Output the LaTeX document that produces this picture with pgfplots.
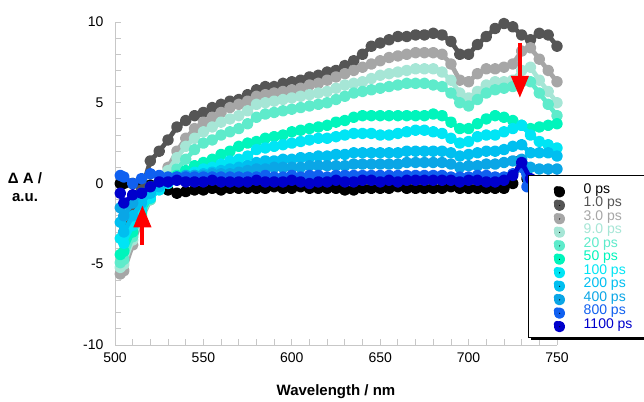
\documentclass[border=0pt]{standalone}
\usepackage{fontspec}
\setmainfont{Liberation Sans}
\usepackage{pgfplots}
\pgfplotsset{compat=1.18}
\usetikzlibrary{arrows.meta,shadows}
\definecolor{c0}{HTML}{000000}
\definecolor{c1}{HTML}{555555}
\definecolor{c2}{HTML}{A6A6A6}
\definecolor{c3}{HTML}{A6E6D6}
\definecolor{c4}{HTML}{5EEBCB}
\definecolor{c5}{HTML}{00F5BC}
\definecolor{c6}{HTML}{00E5F5}
\definecolor{c7}{HTML}{00BFF0}
\definecolor{c8}{HTML}{0AA6E6}
\definecolor{c9}{HTML}{1060F0}
\definecolor{c10}{HTML}{0000CC}
\pgfplotsset{dotimg/.style={color=#1, only marks, mark=*, mark size=3.3pt, legend image code/.code={\fill[#1,draw=none] (0pt,0pt) circle (3.3pt);}}}
\begin{document}
\begin{tikzpicture}
\useasboundingbox (-115pt,-56pt) rectangle (529pt,345pt);
\clip (-115pt,-56pt) rectangle (529pt,345pt);
\begin{axis}[
  at={(0pt,0pt)}, anchor=south west,
  clip mode=individual,
  scale only axis, width=442pt, height=323pt,
  xmin=500, xmax=750, ymin=-10, ymax=10,
  axis x line*=bottom, axis y line*=left,
  axis line style={black!22, line width=0.8pt},
  xtick={500,550,600,650,700,750}, ytick={-10,-5,0,5,10},
  minor x tick num=4, minor y tick num=4,
  tick align=inside, major tick length=6pt, minor tick length=6pt,
  tick style={black!22, line width=0.8pt},
  ticklabel style={font=\fontsize{14}{16}\selectfont},
  /pgf/number format/assume math mode=true,
  yticklabel style={xshift=-8pt}, xticklabel style={yshift=-4pt},
  every axis plot/.append style={line width=4.6pt, mark=*, mark size=3.5pt, line join=round, line cap=round, mark options={solid, draw=none}},
  legend style={at={(rel axis cs:0.934,0.525)}, anchor=north west, draw=black, line width=0.8pt, fill=white,
    font=\fontsize{14}{14}\selectfont, inner xsep=25.5pt, inner ysep=7.5pt, row sep=1.4pt, column sep=23pt,
    cells={anchor=west}, nodes={inner sep=0.4pt},
    drop shadow={shadow xshift=2.5pt, shadow yshift=-2.5pt, fill=black, opacity=1}},
]
\addplot[color=c0, forget plot] coordinates {(503,0.0)(505,0.0)(510,0.0)(515,0.0)(520,-0.1)(525,-0.2)(530,-0.4)(535,-0.6)(540,-0.5)(545,-0.4)(550,-0.4)(555,-0.3)(560,-0.4)(565,-0.3)(570,-0.3)(575,-0.3)(580,-0.3)(585,-0.3)(590,-0.2)(595,-0.3)(600,-0.3)(605,-0.2)(610,-0.3)(615,-0.3)(620,-0.3)(625,-0.3)(630,-0.4)(635,-0.4)(640,-0.3)(645,-0.3)(650,-0.3)(655,-0.3)(660,-0.2)(665,-0.3)(670,-0.3)(675,-0.3)(680,-0.3)(685,-0.3)(690,-0.2)(695,-0.3)(700,-0.3)(705,-0.3)(710,-0.3)(715,-0.3)(720,-0.3)(725,0.0)(729,1.4)(733,0.3)(740,-0.2)(745,-0.2)(750,-0.2)};
\addplot[color=c1, forget plot] coordinates {(505,-3.0)(510,-1.8)(515,-0.4)(520,1.4)(525,2.0)(530,2.7)(535,3.5)(540,3.9)(545,4.2)(550,4.4)(555,4.7)(560,4.9)(565,5.1)(570,5.2)(575,5.5)(580,5.8)(585,6.0)(590,6.0)(595,6.2)(600,6.3)(605,6.4)(610,6.6)(615,6.7)(620,6.9)(625,7.0)(630,7.3)(635,7.6)(640,8.0)(645,8.5)(650,8.7)(655,8.9)(660,9.1)(665,9.1)(670,9.2)(675,9.2)(680,9.3)(685,9.2)(690,8.8)(695,8.0)(700,8.0)(705,8.6)(710,9.1)(715,9.6)(720,9.9)(725,9.7)(730,9.2)(735,8.9)(740,9.3)(745,9.2)(750,8.5)};
\addplot[color=c2, forget plot] coordinates {(503,-5.6)(505,-5.4)(510,-3.8)(515,-2.2)(520,-1.0)(525,0.0)(530,1.0)(535,2.0)(540,2.8)(545,3.4)(550,3.8)(555,4.1)(560,4.4)(565,4.7)(570,4.9)(575,5.1)(580,5.4)(585,5.5)(590,5.6)(595,5.7)(600,5.8)(605,5.9)(610,6.1)(615,6.2)(620,6.4)(625,6.6)(630,6.8)(635,7.0)(640,7.2)(645,7.4)(650,7.6)(655,7.8)(660,7.9)(665,8.0)(670,8.1)(675,8.1)(680,8.1)(685,8.0)(690,7.4)(695,6.4)(700,6.3)(705,6.8)(710,7.1)(715,7.1)(720,7.2)(725,7.4)(730,8.2)(735,8.4)(740,7.7)(745,7.0)(750,6.3)};
\addplot[color=c3, forget plot] coordinates {(503,-5.2)(505,-5.0)(510,-3.5)(515,-2.0)(520,-0.9)(525,0.0)(530,0.8)(535,1.6)(540,2.3)(545,2.8)(550,3.2)(555,3.5)(560,3.8)(565,4.0)(570,4.2)(575,4.5)(580,4.9)(585,5.0)(590,5.1)(595,5.2)(600,5.3)(605,5.4)(610,5.5)(615,5.6)(620,5.7)(625,5.9)(630,6.1)(635,6.2)(640,6.3)(645,6.5)(650,6.7)(655,6.8)(660,6.9)(665,7.0)(670,7.1)(675,7.1)(680,7.1)(685,6.9)(690,6.4)(695,5.6)(700,5.3)(705,5.7)(710,6.1)(715,6.3)(720,6.3)(725,6.4)(730,7.0)(735,7.2)(740,6.4)(745,5.7)(750,5.0)};
\addplot[color=c4, forget plot] coordinates {(503,-4.9)(505,-4.7)(510,-3.3)(515,-2.0)(520,-1.0)(525,-0.2)(530,0.4)(535,0.9)(540,1.5)(545,2.1)(550,2.5)(555,2.7)(560,3.0)(565,3.2)(570,3.4)(575,3.7)(580,4.1)(585,4.3)(590,4.4)(595,4.5)(600,4.6)(605,4.7)(610,4.8)(615,4.9)(620,5.0)(625,5.2)(630,5.4)(635,5.6)(640,5.7)(645,5.8)(650,5.9)(655,6.0)(660,6.1)(665,6.2)(670,6.2)(675,6.2)(680,6.1)(685,6.0)(690,5.6)(695,5.0)(700,4.8)(705,5.2)(710,5.6)(715,5.8)(720,5.9)(725,6.0)(730,6.3)(735,6.3)(740,5.6)(745,4.9)(750,4.2)};
\addplot[color=c5, forget plot] coordinates {(503,-4.4)(505,-4.2)(510,-3.0)(515,-1.8)(520,-0.9)(525,-0.3)(530,0.1)(535,0.5)(540,0.8)(545,1.1)(550,1.3)(555,1.5)(560,1.8)(565,2.0)(570,2.3)(575,2.5)(580,2.6)(585,2.8)(590,2.9)(595,3.0)(600,3.2)(605,3.3)(610,3.4)(615,3.5)(620,3.6)(625,3.8)(630,3.9)(635,4.1)(640,4.2)(645,4.2)(650,4.2)(655,4.2)(660,4.2)(665,4.2)(670,4.2)(675,4.2)(680,4.3)(685,4.2)(690,3.8)(695,3.4)(700,3.4)(705,3.7)(710,4.0)(715,4.2)(720,4.1)(725,3.9)(730,3.6)(735,3.4)(740,3.5)(745,3.6)(750,3.7)};
\addplot[color=c6, forget plot] coordinates {(503,-3.4)(505,-3.7)(510,-2.6)(515,-1.6)(520,-0.9)(525,-0.4)(530,0.0)(535,0.3)(540,0.5)(545,0.7)(550,0.9)(555,1.0)(560,1.2)(565,1.4)(570,1.5)(575,1.7)(580,2.1)(585,2.2)(590,2.3)(595,2.4)(600,2.5)(605,2.6)(610,2.7)(615,2.8)(620,2.8)(625,2.9)(630,3.0)(635,3.1)(640,3.1)(645,3.1)(650,3.0)(655,3.0)(660,3.1)(665,3.2)(670,3.3)(675,3.3)(680,3.2)(685,3.1)(690,2.8)(695,2.5)(700,2.6)(705,2.9)(710,3.0)(715,3.0)(720,3.2)(725,3.4)(730,3.6)(735,3.0)(740,2.6)(745,2.4)(750,2.2)};
\addplot[color=c7, forget plot] coordinates {(503,-2.4)(505,-3.0)(510,-2.0)(515,-1.2)(520,-0.6)(525,-0.2)(530,0.2)(535,0.3)(540,0.4)(545,0.5)(550,0.6)(555,0.7)(560,0.8)(565,0.9)(570,1.0)(575,1.1)(580,1.3)(585,1.4)(590,1.4)(595,1.5)(600,1.5)(605,1.6)(610,1.6)(615,1.7)(620,1.7)(625,1.8)(630,1.8)(635,1.9)(640,1.9)(645,1.9)(650,1.9)(655,1.9)(660,1.9)(665,2.0)(670,2.0)(675,2.0)(680,2.0)(685,2.0)(690,1.9)(695,1.7)(700,1.8)(705,1.9)(710,2.0)(715,2.0)(720,2.1)(725,2.3)(730,2.4)(735,1.9)(740,1.9)(745,1.9)(750,1.7)};
\addplot[color=c8, forget plot] coordinates {(503,-1.5)(505,-2.0)(510,-1.2)(515,-0.6)(520,-0.2)(525,0.1)(530,0.3)(535,0.4)(540,0.5)(545,0.5)(550,0.5)(555,0.6)(560,0.6)(565,0.6)(570,0.7)(575,0.8)(580,0.9)(585,0.9)(590,1.0)(595,1.0)(600,1.0)(605,1.0)(610,1.1)(615,1.1)(620,1.1)(625,1.1)(630,1.1)(635,1.2)(640,1.2)(645,1.2)(650,1.2)(655,1.2)(660,1.2)(665,1.3)(670,1.3)(675,1.3)(680,1.3)(685,1.3)(690,1.2)(695,1.0)(700,1.1)(705,1.1)(710,1.2)(715,1.2)(720,1.3)(725,1.4)(730,1.5)(735,1.0)(740,0.9)(745,0.9)(750,0.9)};
\addplot[color=c9, forget plot] coordinates {(503,0.5)(505,0.4)(510,0.0)(515,0.3)(520,0.6)(525,0.5)(530,0.4)(535,0.4)(540,0.4)(545,0.4)(550,0.4)(555,0.4)(560,0.4)(565,0.4)(570,0.4)(575,0.4)(580,0.4)(585,0.5)(590,0.4)(595,0.4)(600,0.5)(605,0.4)(610,0.5)(615,0.5)(620,0.4)(625,0.5)(630,0.5)(635,0.5)(640,0.5)(645,0.5)(650,0.5)(655,0.5)(660,0.5)(665,0.5)(670,0.5)(675,0.5)(680,0.5)(685,0.5)(690,0.4)(695,0.4)(700,0.4)(705,0.5)(710,0.5)(715,0.4)(720,0.4)(725,0.6)(730,1.0)(733,-0.2)(737,-0.7)(740,0.0)(745,0.2)(750,0.2)};
\addplot[color=c10, forget plot] coordinates {(503,-0.6)(505,-1.2)(510,-0.7)(515,-0.6)(520,-0.2)(525,0.1)(530,0.1)(535,0.2)(540,0.1)(545,0.1)(550,0.1)(555,0.2)(560,0.1)(565,0.1)(570,0.1)(575,0.1)(580,0.2)(585,0.1)(590,0.1)(595,0.1)(600,0.2)(605,0.1)(610,0.0)(615,0.1)(620,0.1)(625,0.2)(630,0.1)(635,0.1)(640,0.2)(645,0.2)(650,0.1)(655,0.2)(660,0.1)(665,0.2)(670,0.2)(675,0.2)(680,0.2)(685,0.2)(690,0.2)(695,0.1)(700,0.2)(705,0.2)(710,0.1)(715,0.1)(720,0.2)(725,0.5)(730,1.3)(735,0.3)(740,0.0)(745,0.0)(750,0.0)};
\draw[red, line width=4pt, -{Triangle[width=17pt,length=22pt]}] (axis cs:515.5,-3.8) -- (axis cs:515.5,-1.35);
\draw[red, line width=4pt, -{Triangle[width=17pt,length=22pt]}] (axis cs:729,8.7) -- (axis cs:729,5.3);
\addlegendimage{dotimg=c0}
\addlegendentry[text=c0]{0 ps}
\addlegendimage{dotimg=c1}
\addlegendentry[text=c1]{1.0 ps}
\addlegendimage{dotimg=c2}
\addlegendentry[text=c2]{3.0 ps}
\addlegendimage{dotimg=c3}
\addlegendentry[text=c3]{9.0 ps}
\addlegendimage{dotimg=c4}
\addlegendentry[text=c4]{20 ps}
\addlegendimage{dotimg=c5}
\addlegendentry[text=c5]{50 ps}
\addlegendimage{dotimg=c6}
\addlegendentry[text=c6]{100 ps}
\addlegendimage{dotimg=c7}
\addlegendentry[text=c7]{200 ps}
\addlegendimage{dotimg=c8}
\addlegendentry[text=c8]{400 ps}
\addlegendimage{dotimg=c9}
\addlegendentry[text=c9]{800 ps}
\addlegendimage{dotimg=c10}
\addlegendentry[text=c10]{1100 ps}
\end{axis}
\node[font=\bfseries\fontsize{15}{18}\selectfont, align=center] at (-90pt,158pt) {Δ A /\\a.u.};
\node[font=\bfseries\fontsize{15}{18}\selectfont] at (221pt,-47pt) {Wavelength / nm};
\end{tikzpicture}
\end{document}
